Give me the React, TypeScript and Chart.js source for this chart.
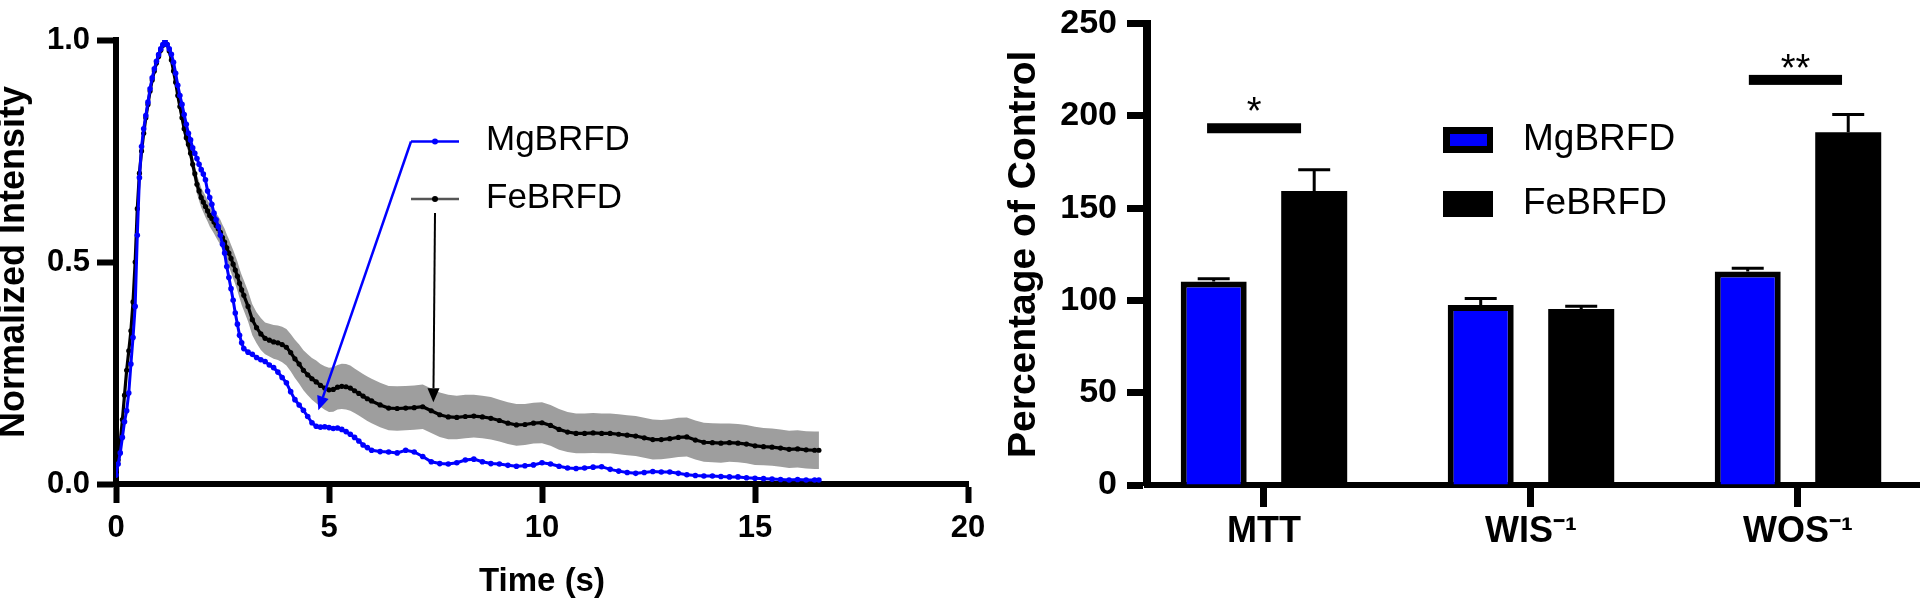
import React, { useEffect, useRef } from 'react';
import { Chart, registerables } from 'chart.js';

Chart.register(...registerables);

const FONT = "'Liberation Sans', Arial, Helvetica, sans-serif";
Chart.defaults.font.family = FONT;
Chart.defaults.color = '#000';

const BLUE = '#0000ff';
const BLACK = '#000000';
const BAND = '#9e9e9e';

// ---------------- Left panel: time-intensity curves ----------------
const seriesNames = ['MgBRFD', 'FeBRFD'];

const timeSec = [
  0, 0.05, 0.1, 0.15, 0.2, 0.25, 0.3, 0.35, 0.4, 0.45,
  0.5, 0.55, 0.6, 0.65, 0.7, 0.75, 0.8, 0.85, 0.9, 0.95,
  1.0, 1.05, 1.1, 1.15, 1.2, 1.25, 1.3, 1.35, 1.4, 1.45,
  1.5, 1.55, 1.6, 1.65, 1.7, 1.75, 1.8, 1.85, 1.9, 1.95,
  2.0, 2.05, 2.1, 2.15, 2.2, 2.25, 2.3, 2.35, 2.4, 2.45,
  2.5, 2.55, 2.6, 2.65, 2.7, 2.75, 2.8, 2.85, 2.9, 2.95, 3.0,
  3.1, 3.2, 3.3, 3.4, 3.5, 3.6, 3.7, 3.8, 3.9, 4.0,
  4.1, 4.2, 4.3, 4.4, 4.5, 4.6, 4.7, 4.8, 4.9, 5.0,
  5.1, 5.2, 5.3, 5.4, 5.5, 5.6, 5.7, 5.8, 5.9, 6.0,
  6.2, 6.4, 6.6, 6.8, 7.0, 7.2, 7.4, 7.6, 7.8, 8.0,
  8.2, 8.4, 8.6, 8.8, 9.0, 9.2, 9.4, 9.6, 9.8, 10.0,
  10.2, 10.4, 10.6, 10.8, 11.0, 11.2, 11.4, 11.6, 11.8, 12.0,
  12.2, 12.4, 12.6, 12.8, 13.0, 13.2, 13.4, 13.6, 13.8, 14.0,
  14.2, 14.4, 14.6, 14.8, 15.0, 15.2, 15.4, 15.6, 15.8, 16.0,
  16.2, 16.4, 16.5,
];

const mgIntensity = [
  0.02, 0.045, 0.07, 0.105, 0.14, 0.165, 0.205, 0.27, 0.33, 0.40,
  0.56, 0.69, 0.76, 0.80, 0.83, 0.86, 0.89, 0.915, 0.935, 0.952,
  0.967, 0.98, 0.99, 1.0, 0.99, 0.98, 0.968, 0.95, 0.925, 0.898,
  0.875, 0.855, 0.832, 0.81, 0.79, 0.775, 0.757, 0.745, 0.733, 0.72,
  0.708, 0.698, 0.685, 0.66, 0.645, 0.63, 0.61, 0.595, 0.58, 0.56,
  0.54, 0.52, 0.49, 0.465, 0.44, 0.414, 0.385, 0.36, 0.335, 0.318, 0.305,
  0.297, 0.292, 0.285, 0.28, 0.276, 0.268, 0.262, 0.252, 0.24, 0.228,
  0.208, 0.19, 0.178, 0.166, 0.152, 0.138, 0.13, 0.128, 0.129, 0.127,
  0.125, 0.126, 0.123, 0.118, 0.112, 0.105, 0.097, 0.088, 0.082, 0.076,
  0.073, 0.072, 0.07, 0.076, 0.072, 0.062, 0.05, 0.046, 0.045, 0.048,
  0.054, 0.056, 0.05, 0.046, 0.045, 0.042, 0.04, 0.041, 0.043, 0.048,
  0.045, 0.04, 0.036, 0.035, 0.036, 0.038, 0.039, 0.033, 0.029, 0.026,
  0.024, 0.026, 0.028, 0.027, 0.027, 0.024, 0.021, 0.019, 0.018, 0.018,
  0.017, 0.016, 0.016, 0.014, 0.013, 0.012, 0.011, 0.01, 0.009, 0.01,
  0.009, 0.009, 0.009,
];

const feIntensity = [
  0.03, 0.054, 0.095, 0.145, 0.2, 0.256, 0.3, 0.345, 0.41, 0.5,
  0.62, 0.7, 0.75, 0.79, 0.825, 0.855, 0.885, 0.91, 0.93, 0.948,
  0.963, 0.977, 0.988, 0.998, 0.99, 0.975, 0.955, 0.93, 0.905, 0.875,
  0.85, 0.825, 0.8, 0.78, 0.765, 0.745, 0.72, 0.699, 0.675, 0.66,
  0.645, 0.635, 0.625, 0.615, 0.605, 0.598, 0.59, 0.582, 0.575, 0.567,
  0.555, 0.545, 0.532, 0.52, 0.508, 0.495, 0.482, 0.468, 0.452, 0.437, 0.425,
  0.4, 0.37, 0.352, 0.338, 0.328, 0.324, 0.32, 0.318, 0.314, 0.308,
  0.296, 0.282, 0.27, 0.256, 0.246, 0.237, 0.23, 0.222, 0.216, 0.212,
  0.213, 0.218, 0.22, 0.219, 0.216, 0.21, 0.204, 0.198, 0.192, 0.187,
  0.178, 0.171, 0.17, 0.171, 0.172, 0.174, 0.165, 0.156, 0.151, 0.15,
  0.152, 0.153, 0.151, 0.148, 0.143, 0.137, 0.133, 0.134, 0.137, 0.138,
  0.132, 0.123, 0.117, 0.114, 0.114, 0.115, 0.114, 0.114, 0.112, 0.11,
  0.108, 0.104, 0.1, 0.1, 0.102, 0.105, 0.106, 0.099, 0.094, 0.093,
  0.092, 0.093, 0.092, 0.09, 0.086, 0.084, 0.083, 0.081, 0.078, 0.079,
  0.077, 0.076, 0.076,
];

const feIntensitySd = [
  0.005, 0.008, 0.01, 0.012, 0.014, 0.015, 0.016, 0.017, 0.018, 0.02,
  0.02, 0.018, 0.016, 0.014, 0.012, 0.01, 0.009, 0.008, 0.007, 0.006,
  0.005, 0.004, 0.003, 0.002, 0.003, 0.005, 0.008, 0.01, 0.012, 0.014,
  0.015, 0.016, 0.017, 0.018, 0.018, 0.019, 0.02, 0.02, 0.021, 0.022,
  0.022, 0.023, 0.024, 0.024, 0.025, 0.026, 0.026, 0.027, 0.028, 0.028,
  0.029, 0.03, 0.03, 0.031, 0.031, 0.032, 0.032, 0.033, 0.033, 0.034, 0.034,
  0.034, 0.035, 0.035, 0.036, 0.036, 0.037, 0.038, 0.039, 0.04, 0.041,
  0.042, 0.043, 0.044, 0.045, 0.046, 0.047, 0.048, 0.048, 0.049, 0.05,
  0.05, 0.05, 0.051, 0.051, 0.051, 0.05, 0.05, 0.05, 0.05, 0.05,
  0.05, 0.05, 0.05, 0.05, 0.05, 0.05, 0.05, 0.05, 0.05, 0.049,
  0.049, 0.048, 0.048, 0.048, 0.047, 0.047, 0.047, 0.046, 0.046, 0.046,
  0.046, 0.046, 0.045, 0.045, 0.045, 0.045, 0.045, 0.045, 0.045, 0.045,
  0.045, 0.045, 0.045, 0.044, 0.044, 0.044, 0.044, 0.044, 0.044, 0.044,
  0.044, 0.043, 0.043, 0.043, 0.043, 0.042, 0.042, 0.042, 0.042, 0.042,
  0.042, 0.042, 0.042,
];

// arrow targets (data coordinates) for the two legend arrows: [Mg, Fe]
const arrowTargetTime = [4.75, 7.45];
const arrowTargetValue = [0.166, 0.184];

// ---------------- Right panel: bar chart ----------------
const barCategories = ['MTT', 'WIS\u207B\u00B9', 'WOS\u207B\u00B9'];
const mgPercent = [110.2, 97.5, 115.7];
const mgPercentErr = [1.5, 3.5, 1.7];
const fePercent = [159.3, 95.3, 191.1];
const fePercentErr = [11.5, 1.6, 9.7];
// significance brackets (category-index units) and levels
const sigFrom = [-0.213, null, 1.816];
const sigTo = [0.139, null, 2.165];
const sigLevel = [193.3, null, 219.5];
const sigMarkLevel = [207.6, null, 231.0];
const sigMark = ['*', '', '**'];

[mgIntensity, feIntensity, feIntensitySd].forEach((arr, k) => {
  if (arr.length !== timeSec.length) throw new Error('length mismatch in series ' + k + ': ' + arr.length + ' vs ' + timeSec.length);
});

function drawArrow(ctx: CanvasRenderingContext2D, x1: number, y1: number, x2: number, y2: number, color: string, width: number) {
  const ang = Math.atan2(y2 - y1, x2 - x1);
  const headLen = 14;
  const headHalf = 6;
  const bx = x2 - headLen * Math.cos(ang);
  const by = y2 - headLen * Math.sin(ang);
  ctx.save();
  ctx.strokeStyle = color;
  ctx.fillStyle = color;
  ctx.lineWidth = width;
  ctx.beginPath();
  ctx.moveTo(x1, y1);
  ctx.lineTo(bx, by);
  ctx.stroke();
  ctx.beginPath();
  ctx.moveTo(x2, y2);
  ctx.lineTo(bx + headHalf * Math.sin(ang), by - headHalf * Math.cos(ang));
  ctx.lineTo(bx - headHalf * Math.sin(ang), by + headHalf * Math.cos(ang));
  ctx.closePath();
  ctx.fill();
  ctx.restore();
}

const leftAnnotations = {
  id: 'leftAnnotations',
  afterDraw(chart: any) {
    const { ctx } = chart;
    const xs = chart.scales.x;
    const ys = chart.scales.y;
    const rows = [
      { name: seriesNames[0], line: BLUE, dot: BLUE, y: 141.5, ty: 140.5, arrowFrom: [411, 141.5], arrowColor: BLUE, aw: 2.5 },
      { name: seriesNames[1], line: '#555555', dot: BLACK, y: 199, ty: 198, arrowFrom: [435, 213], arrowColor: BLACK, aw: 2 },
    ];
    rows.forEach((r, i) => {
      ctx.save();
      ctx.strokeStyle = r.line;
      ctx.lineWidth = 2.5;
      ctx.beginPath();
      ctx.moveTo(411, r.y);
      ctx.lineTo(459, r.y);
      ctx.stroke();
      ctx.fillStyle = r.dot;
      ctx.beginPath();
      ctx.arc(435, r.y, 3, 0, Math.PI * 2);
      ctx.fill();
      ctx.fillStyle = BLACK;
      ctx.font = `35px ${FONT}`;
      ctx.textAlign = 'left';
      ctx.textBaseline = 'middle';
      ctx.fillText(r.name, 486, r.ty);
      ctx.restore();
      const tx = xs.getPixelForValue(arrowTargetTime[i]);
      const ty = ys.getPixelForValue(arrowTargetValue[i]);
      drawArrow(ctx, r.arrowFrom[0], r.arrowFrom[1], tx, ty, r.arrowColor, r.aw);
    });
  },
};

function IntensityChart() {
  const ref = useRef<HTMLCanvasElement>(null);
  useEffect(() => {
    const canvas = ref.current;
    if (!canvas) return;
    const pts = (vals: number[]) => vals.map((v, i) => ({ x: timeSec[i], y: v }));
    const upper = feIntensity.map((v, i) => v + feIntensitySd[i]);
    const lower = feIntensity.map((v, i) => v - feIntensitySd[i]);
    const chart = new Chart(canvas, {
      type: 'line',
      data: {
        datasets: [
          {
            label: seriesNames[0], data: pts(mgIntensity), borderColor: BLUE, backgroundColor: BLUE,
            borderWidth: 3, pointRadius: 2.8, pointBorderWidth: 0, pointBackgroundColor: BLUE,
            tension: 0, fill: false, order: 0,
          },
          {
            label: seriesNames[1], data: pts(feIntensity), borderColor: BLACK, backgroundColor: BLACK,
            borderWidth: 3.2, pointRadius: 2.6, pointBorderWidth: 0, pointBackgroundColor: BLACK,
            tension: 0, fill: false, order: 1,
          },
          {
            label: 'FeBRFD + SD', data: pts(upper), borderWidth: 0, borderColor: BAND, pointRadius: 0,
            backgroundColor: BAND, fill: '+1', tension: 0, order: 2,
          },
          {
            label: 'FeBRFD - SD', data: pts(lower), borderWidth: 0, borderColor: BAND, pointRadius: 0,
            backgroundColor: BAND, fill: false, tension: 0, order: 3,
          },
        ],
      } as any,
      options: {
        responsive: false,
        animation: false,
        devicePixelRatio: 1,
        layout: { padding: { left: 0, top: 40, right: 32, bottom: 0 } },
        plugins: { legend: { display: false }, tooltip: { enabled: false } },
        scales: {
          x: {
            type: 'linear', min: 0, max: 20,
            afterFit: (s: any) => { s.height = 120; },
            ticks: { stepSize: 5, color: BLACK, padding: 7, maxRotation: 0, font: { family: FONT, size: 31, weight: 'bold' } },
            grid: { drawOnChartArea: false, drawTicks: true, tickLength: 19, tickWidth: 6, tickColor: BLACK },
            border: { display: true, color: BLACK, width: 6 },
            title: { display: true, text: 'Time (s)', color: BLACK, font: { family: FONT, size: 33, weight: 'bold' }, padding: { top: 0, bottom: 2 } },
          },
          y: {
            type: 'linear', min: 0, max: 1,
            afterFit: (s: any) => { s.width = 116; },
            ticks: { stepSize: 0.5, color: BLACK, padding: 7, callback: (v: any) => Number(v).toFixed(1), font: { family: FONT, size: 31, weight: 'bold' } },
            grid: { drawOnChartArea: false, drawTicks: true, tickLength: 19, tickWidth: 6, tickColor: BLACK },
            border: { display: true, color: BLACK, width: 6 },
            title: { display: true, text: 'Normalized Intensity', color: BLACK, font: { family: FONT, size: 36, weight: 'bold', lineHeight: 0.806 }, padding: { top: 0, bottom: 0 } },
          },
        },
      } as any,
      plugins: [leftAnnotations],
    });
    return () => chart.destroy();
  }, []);
  return <canvas ref={ref} width={1000} height={604} style={{ position: 'absolute', left: 0, top: 0, width: 1000, height: 604, display: 'block' }} />;
}

const rightAnnotations = {
  id: 'rightAnnotations',
  afterDatasetsDraw(chart: any) {
    const { ctx } = chart;
    const xs = chart.scales.x;
    const ys = chart.scales.y;
    const means = [mgPercent, fePercent];
    const errs = [mgPercentErr, fePercentErr];
    chart.data.datasets.forEach((_ds: any, di: number) => {
      const meta = chart.getDatasetMeta(di);
      meta.data.forEach((bar: any, i: number) => {
        const top = ys.getPixelForValue(means[di][i] + errs[di][i]);
        ctx.save();
        ctx.strokeStyle = BLACK;
        ctx.lineWidth = 3;
        ctx.beginPath();
        ctx.moveTo(bar.x, bar.y);
        ctx.lineTo(bar.x, top);
        ctx.moveTo(bar.x - 16, top);
        ctx.lineTo(bar.x + 16, top);
        ctx.stroke();
        ctx.restore();
      });
    });
    sigLevel.forEach((lvl, i) => {
      if (lvl == null) return;
      const x1 = xs.getPixelForValue(sigFrom[i] as number);
      const x2 = xs.getPixelForValue(sigTo[i] as number);
      const yy = ys.getPixelForValue(lvl);
      ctx.save();
      ctx.fillStyle = BLACK;
      ctx.fillRect(x1, yy - 5, x2 - x1, 10);
      const fs = 38;
      ctx.font = `${fs}px ${FONT}`;
      ctx.textAlign = 'center';
      ctx.textBaseline = 'alphabetic';
      const my = ys.getPixelForValue(sigMarkLevel[i] as number);
      ctx.fillText(sigMark[i], (x1 + x2) / 2, my + 0.58 * fs);
      ctx.restore();
    });
  },
  afterDraw(chart: any) {
    const { ctx } = chart;
    chart.data.datasets.forEach((ds: any, i: number) => {
      const cy = 140 + i * 64;
      ctx.save();
      ctx.fillStyle = BLACK;
      ctx.fillRect(463, cy - 13, 50, 26);
      if (ds.backgroundColor !== BLACK) {
        ctx.fillStyle = ds.backgroundColor;
        ctx.fillRect(470, cy - 6, 37, 12);
      }
      ctx.fillStyle = BLACK;
      ctx.font = `37px ${FONT}`;
      ctx.textAlign = 'left';
      ctx.textBaseline = 'middle';
      ctx.fillText(ds.label, 543, cy);
      ctx.restore();
    });
  },
};

function PercentChart() {
  const ref = useRef<HTMLCanvasElement>(null);
  useEffect(() => {
    const canvas = ref.current;
    if (!canvas) return;
    const chart = new Chart(canvas, {
      type: 'bar',
      data: {
        datasets: [
          {
            label: seriesNames[0], data: mgPercent.map((v, i) => ({ x: i, y: v })),
            backgroundColor: BLUE, borderColor: BLACK, borderWidth: 6, borderSkipped: 'start',
            categoryPercentage: 0.7528, barPercentage: 0.6567,
          },
          {
            label: seriesNames[1], data: fePercent.map((v, i) => ({ x: i, y: v })),
            backgroundColor: BLACK, borderColor: BLACK, borderWidth: 0,
            categoryPercentage: 0.7528, barPercentage: 0.6567,
          },
        ],
      } as any,
      options: {
        responsive: false,
        animation: false,
        devicePixelRatio: 1,
        layout: { padding: { left: 0, top: 14, right: 0, bottom: 0 } },
        plugins: { legend: { display: false }, tooltip: { enabled: false } },
        scales: {
          x: {
            type: 'linear', min: -0.438, max: 2.457, offset: false,
            afterBuildTicks: (s: any) => { s.ticks = barCategories.map((_c, i) => ({ value: i })); },
            afterFit: (s: any) => { s.height = 119; },
            ticks: {
              autoSkip: false, maxRotation: 0, color: BLACK, padding: 3,
              callback: (v: any) => barCategories[Math.round(Number(v))] ?? '',
              font: { family: FONT, size: 36, weight: 'bold' },
            },
            grid: { offset: false, drawOnChartArea: false, drawTicks: true, tickLength: 22, tickWidth: 7, tickColor: BLACK },
            border: { display: true, color: BLACK, width: 6 },
          },
          y: {
            type: 'linear', min: 0, max: 250,
            afterFit: (s: any) => { s.width = 167; },
            ticks: { stepSize: 50, color: BLACK, padding: 10, font: { family: FONT, size: 34, weight: 'bold', lineHeight: 0.8 } },
            grid: { drawOnChartArea: false, drawTicks: true, tickLength: 20, tickWidth: 7, tickColor: BLACK },
            border: { display: true, color: BLACK, width: 8 },
            title: { display: true, text: 'Percentage of Control', color: BLACK, font: { family: FONT, size: 39, weight: 'bold' }, padding: { top: 21, bottom: 0 } },
          },
        },
      } as any,
      plugins: [rightAnnotations],
    });
    return () => chart.destroy();
  }, []);
  return <canvas ref={ref} width={940} height={604} style={{ position: 'absolute', left: 980, top: 0, width: 940, height: 604, display: 'block' }} />;
}

export default function App() {
  return (
    <div style={{ position: 'fixed', left: 0, top: 0, width: 1920, height: 604, background: '#ffffff', overflow: 'hidden' }}>
      <IntensityChart />
      <PercentChart />
    </div>
  );
}
